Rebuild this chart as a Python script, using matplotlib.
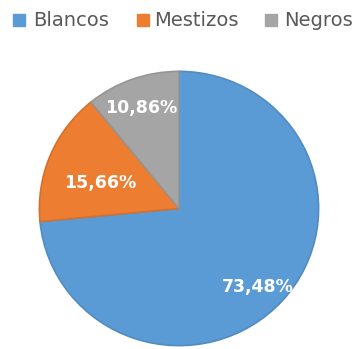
import matplotlib.pyplot as plt
from matplotlib.colors import to_rgb
from matplotlib.patches import Rectangle

# pie data
labels = ['Blancos', 'Mestizos', 'Negros']
values = [73.48, 15.66, 10.86]
pct_text = ['73,48%', '15,66%', '10,86%']
colors = ['#5B9BD5', '#ED7D31', '#A5A5A5']

W, H = 356, 349
fig = plt.figure(figsize=(W / 100, H / 100), dpi=100)

# pie area in pixels (left, top, right, bottom)
l, t, r, b = 38, 70, 320, 347
ax = fig.add_axes([l / W, 1 - b / H, (r - l) / W, (b - t) / H])
wedges, _ = ax.pie(values, colors=colors, startangle=90, counterclock=False,
                   radius=1)
for w, c in zip(wedges, colors):
    w.set_edgecolor(tuple(v * 0.9 for v in to_rgb(c)))
    w.set_linewidth(1.2)
ax.set_aspect('auto')
ax.set_xlim(-1.01, 1.01)
ax.set_ylim(-1.01, 1.01)

# percentage labels, centre of each text in pixels
label_px = [(258, 287), (100, 183), (141, 108)]
for txt, (px, py) in zip(pct_text, label_px):
    fig.text(px / W, 1 - py / H, txt, ha='center', va='center',
             color='white', fontsize=12.5, fontweight='bold', family='DejaVu Sans')

# legend, placed by hand in pixel coords
sq_x = [13, 137, 265]
txt_x = [33, 154, 284]
for x0, x1, lab, c in zip(sq_x, txt_x, labels, colors):
    fig.patches.append(Rectangle((x0 / W, 1 - 26 / H), 12 / W, 12 / H,
                                 transform=fig.transFigure, color=c))
    fig.text(x1 / W, 1 - 20 / H, lab, ha='left', va='center',
             fontsize=14, color='#595959', family='DejaVu Sans')

fig.savefig('out.png', dpi=100)
